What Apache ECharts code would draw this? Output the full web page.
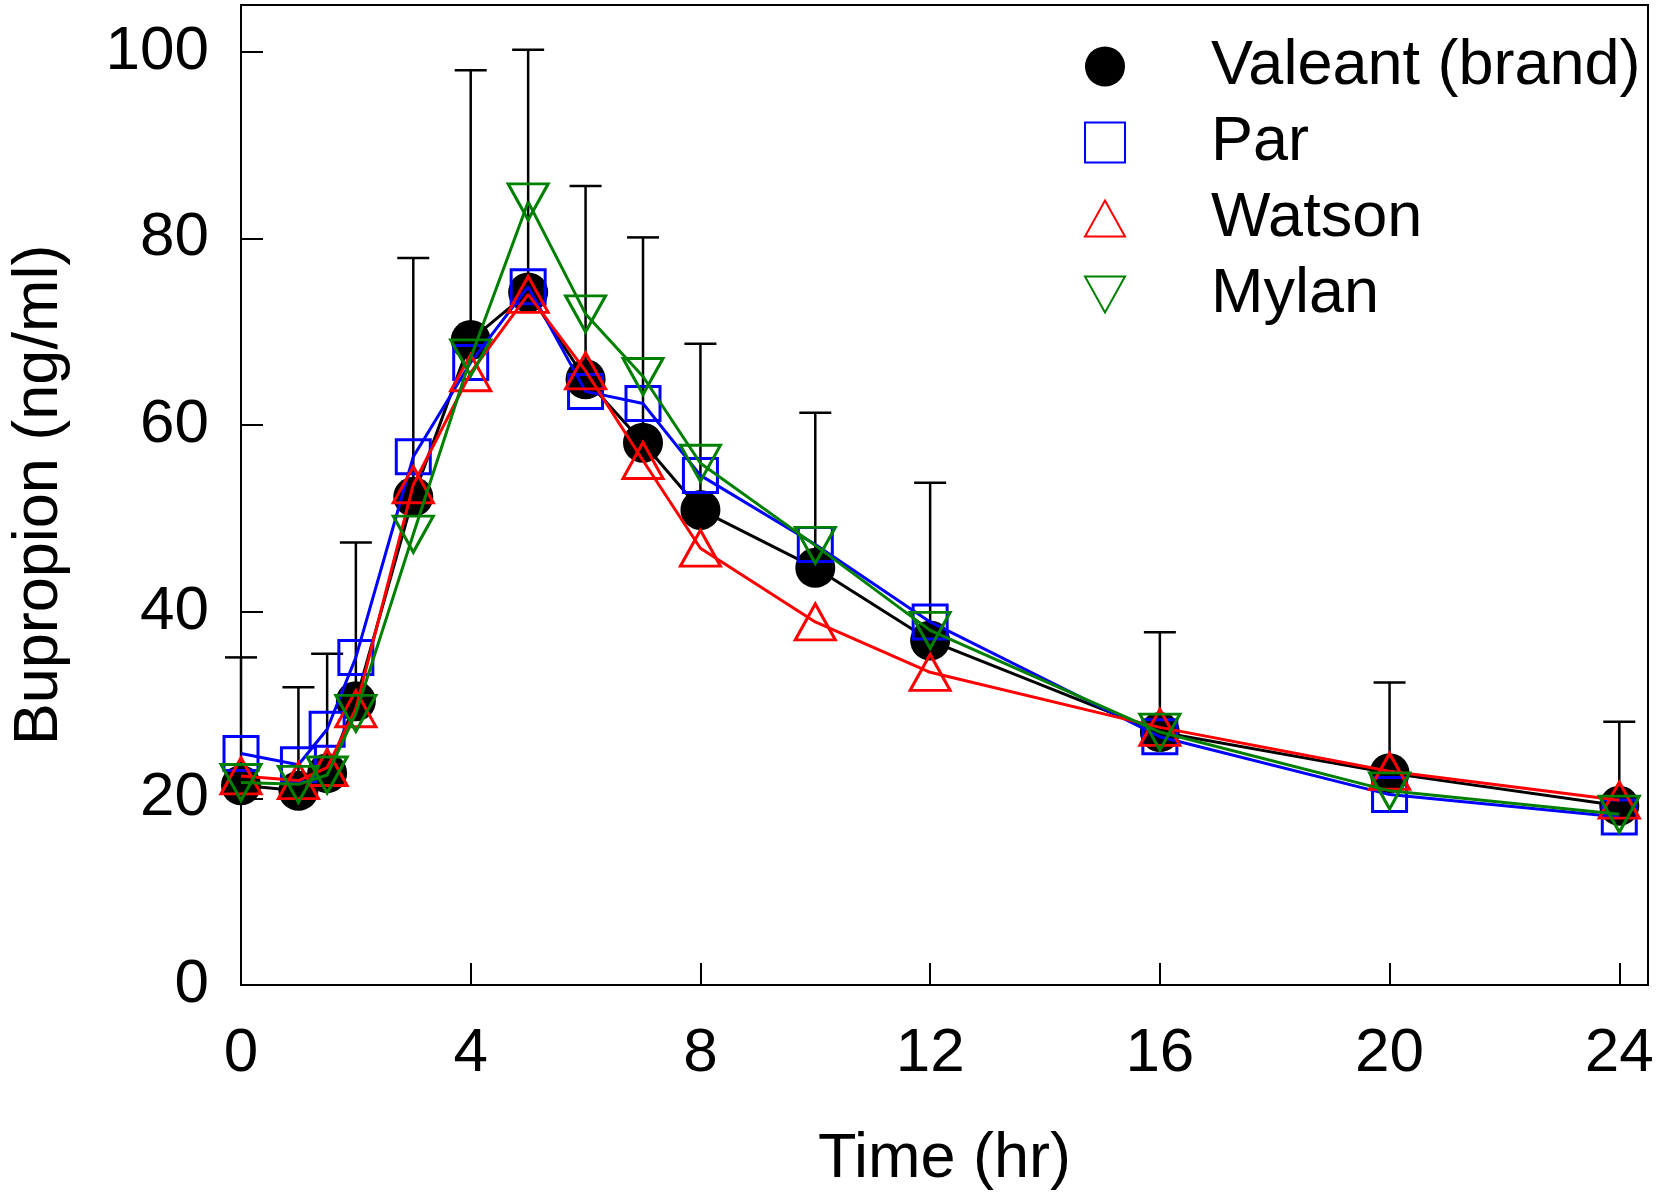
<!DOCTYPE html>
<html>
<head>
<meta charset="utf-8">
<script src="https://cdn.jsdelivr.net/npm/echarts@6/dist/echarts.min.js"></script>
<style>
html, body { margin: 0; padding: 0; background: #fff; }
#chart-container { width: 1662px; height: 1196px; }
</style>
</head>
<body>
<div id="chart-container"></div>
<script>
// sampling times (hr)
var hours = [0, 1, 1.5, 2, 3, 4, 5, 6, 7, 8, 10, 12, 16, 20, 24];

// mean concentrations (ng/ml)
var valeant      = [21.4, 20.8, 22.7, 30.4, 52.3, 69.1, 74.2, 64.9, 58.1, 50.9, 44.7, 36.9, 27.1, 22.7, 19.2];
var valeantUpper = [35.1, 31.9, 35.5, 47.4, 77.9, 98.0, 100.2, 85.6, 80.1, 68.7, 61.3, 53.8, 37.8, 32.4, 28.2];
var par          = [24.8, 23.6, 27.4, 35.1, 56.6, 66.7, 74.8, 63.6, 62.3, 54.6, 47.2, 38.9, 26.6, 20.4, 18.0];
var watson       = [22.4, 21.9, 23.3, 29.6, 53.6, 65.6, 74.0, 65.8, 56.2, 46.8, 38.9, 33.5, 27.6, 22.9, 19.8];
var mylan        = [21.7, 21.5, 22.5, 29.1, 48.3, 67.2, 83.9, 71.9, 65.2, 55.9, 47.1, 38.0, 27.1, 20.8, 18.3];

// axis tick labels
var xTickLabels = [0, 4, 8, 12, 16, 20, 24];
var yTickLabels = [0, 20, 40, 60, 80, 100];

function pairs(ys) {
  return hours.map(function (h, i) { return [h, ys[i]]; });
}

var fontFam = "'Liberation Sans', Arial, sans-serif";
var chart = echarts.init(document.getElementById('chart-container'));

var options = {
  animation: false,
  backgroundColor: '#fff',
  textStyle: { fontFamily: fontFam },
  grid: {
    left: 240, right: 14, top: 5, bottom: 208,
    show: true, borderColor: '#000', borderWidth: 2
  },
  legend: {
    orient: 'vertical',
    left: 1079,
    top: 30,
    itemWidth: 40,
    itemHeight: 40,
    itemGap: 13,
    textStyle: { fontSize: 63, color: '#000', lineHeight: 62, padding: [0, 0, 0, 81], fontFamily: fontFam },
    data: [
      { name: 'Valeant (brand)', icon: 'circle' },
      { name: 'Par', icon: 'path://M0,0 L10,0 L10,10 L0,10 Z' },
      { name: 'Watson', icon: 'path://M5,0 L10,9 L0,9 Z' },
      { name: 'Mylan', icon: 'path://M0,0 L10,0 L5,9 Z' }
    ]
  },
  xAxis: {
    type: 'value',
    min: 0, max: 24.5, interval: 4,
    name: 'Time (hr)',
    nameLocation: 'middle',
    nameGap: 143,
    nameTextStyle: { fontSize: 63, color: '#000', fontFamily: fontFam },
    axisLine: { lineStyle: { color: '#000', width: 2 } },
    axisTick: { inside: true, length: 22, lineStyle: { color: '#000', width: 2 } },
    axisLabel: {
      fontSize: 62, color: '#000', margin: 38,
      formatter: function (v) { return xTickLabels.indexOf(v) >= 0 ? String(v) : ''; }
    },
    splitLine: { show: false }
  },
  yAxis: {
    type: 'value',
    min: 0, max: 105, interval: 20,
    name: 'Bupropion (ng/ml)',
    nameLocation: 'middle',
    nameGap: 170,
    nameRotate: 90,
    nameTextStyle: { fontSize: 63, color: '#000', fontFamily: fontFam },
    axisLine: { lineStyle: { color: '#000', width: 2 } },
    axisTick: { inside: true, length: 22, lineStyle: { color: '#000', width: 2 } },
    axisLabel: {
      fontSize: 62, color: '#000', margin: 32,
      formatter: function (v) { return yTickLabels.indexOf(v) >= 0 ? String(v) : ''; }
    },
    splitLine: { show: false }
  },
  series: [
    {
      name: 'SD',
      type: 'custom',
      clip: false,
      z: 1,
      data: hours.map(function (h, i) { return [h, valeant[i], valeantUpper[i]]; }),
      renderItem: function (params, api) {
        var p = api.coord([api.value(0), api.value(1)]);
        var q = api.coord([api.value(0), api.value(2)]);
        var half = 16;
        return {
          type: 'group',
          children: [
            { type: 'line', shape: { x1: p[0], y1: p[1], x2: q[0], y2: q[1] }, style: { stroke: '#000', lineWidth: 2.5 } },
            { type: 'line', shape: { x1: q[0] - half, y1: q[1], x2: q[0] + half, y2: q[1] }, style: { stroke: '#000', lineWidth: 2.5 } }
          ]
        };
      }
    },
    {
      name: 'Valeant (brand)',
      type: 'line',
      clip: false,
      z: 2,
      data: pairs(valeant),
      symbol: 'circle',
      symbolSize: 40,
      itemStyle: { color: '#000', borderColor: '#000', borderWidth: 0 },
      lineStyle: { color: '#000', width: 3 }
    },
    {
      name: 'Par',
      type: 'line',
      clip: false,
      z: 3,
      data: pairs(par),
      symbol: 'rect',
      symbolSize: 34,
      itemStyle: { color: 'rgba(255,255,255,0)', borderColor: '#0000ff', borderWidth: 3 },
      lineStyle: { color: '#0000ff', width: 3 }
    },
    {
      name: 'Watson',
      type: 'line',
      clip: false,
      z: 4,
      data: pairs(watson),
      symbol: 'triangle',
      symbolSize: [40, 36],
      itemStyle: { color: 'rgba(255,255,255,0)', borderColor: '#ff0000', borderWidth: 3 },
      lineStyle: { color: '#ff0000', width: 3 }
    },
    {
      name: 'Mylan',
      type: 'line',
      clip: false,
      z: 5,
      data: pairs(mylan),
      symbol: 'triangle',
      symbolRotate: 180,
      symbolSize: [40, 36],
      itemStyle: { color: 'rgba(255,255,255,0)', borderColor: '#008000', borderWidth: 3 },
      lineStyle: { color: '#008000', width: 3 }
    }
  ]
};

chart.setOption(options);
</script>
</body>
</html>
